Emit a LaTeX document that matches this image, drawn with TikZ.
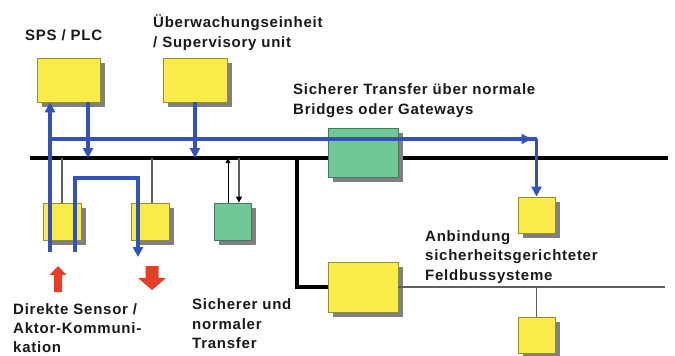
\documentclass[tikz,border=0pt]{standalone}
\usepackage{fontspec}
\setmainfont{Liberation Sans}[LetterSpace=5]
\usetikzlibrary{shadows,arrows.meta}

\definecolor{boxyellow}{RGB}{250,236,72}
\definecolor{boxgreen}{RGB}{112,200,150}
\definecolor{busblue}{RGB}{52,82,188}
\definecolor{arrowred}{RGB}{232,62,40}
\definecolor{shadowgray}{RGB}{128,128,128}
\definecolor{thingray}{RGB}{95,95,95}

\tikzset{
  unit/.style={draw=#1!60!black, fill=#1, line width=0.8pt, inner sep=0pt,
    drop shadow={shadow xshift=5pt,shadow yshift=-5pt,fill=shadowgray,opacity=1}},
  label/.style={align=left, inner sep=0pt, anchor=west, text=black!90,
    font=\fontsize{15}{19.5}\selectfont\bfseries},
  bus/.style={line width=3.6pt, black},
  blueline/.style={line width=3.2pt, busblue, -{Triangle[length=10pt,width=10pt]}},
  thinline/.style={line width=1.5pt, thingray}
}

\begin{document}
\begin{tikzpicture}[x=1pt,y=-1pt]
\useasboundingbox (0,0) rectangle (675,356);

% Geraete
\node[unit=boxyellow, minimum width=63pt, minimum height=44pt] (sps) at (68.5,80) {};
\node[unit=boxyellow, minimum width=64pt, minimum height=44pt] (sup) at (195,80) {};
\node[unit=boxyellow, minimum width=38pt, minimum height=37pt] (sens) at (62,221.5) {};
\node[unit=boxyellow, minimum width=38pt, minimum height=37pt] (akt) at (150,221.5) {};
\node[unit=boxgreen, minimum width=37pt, minimum height=37pt] (tr) at (232.5,221.5) {};
\node[unit=boxyellow, minimum width=37pt, minimum height=36pt] (fb) at (536.5,215) {};
\node[unit=boxyellow, minimum width=70pt, minimum height=50pt] (fbgw) at (363,287) {};
\node[unit=boxyellow, minimum width=37pt, minimum height=36pt] (fbdev) at (536.5,335) {};

% Bus
\coordinate (busL) at (30,158);
\coordinate (busR) at (668,158);
\draw[bus] (busL) -- (busR);
\node[unit=boxgreen, minimum width=70pt, minimum height=49pt] (gw) at (363,152.5) {};

% Abzweig zum Feldbus
\coordinate (abz) at (297,158);
\draw[bus] (abz) |- (fbgw.west);
\draw[thinline] (fbgw.east) -- (665,0 |- fbgw.east);
\draw[thinline] (fbdev.north |- fbgw.east) -- (fbdev.north);

% Stichleitungen
\draw[thinline] (sens.north |- busL) -- (sens.north);
\draw[thinline] ([xshift=2pt]akt.north |- busL) -- ([xshift=2pt]akt.north);
\draw[line width=1pt, thingray, -{Triangle[length=5pt,width=4.5pt]}, black]
  ([xshift=-4.5pt]tr.north) -- ([xshift=-4.5pt]tr.north |- busL);
\draw[line width=1.2pt, thingray, -{Triangle[length=6pt,width=6pt,black]}]
  ([xshift=6.5pt]tr.north |- busL) -- ([xshift=6.5pt]tr.north);

% blaue Pfade
\coordinate (s1) at (50,252);
\coordinate (h0) at (50,139);
\coordinate (k1) at (75,252);
\coordinate (k2) at (138,178);
\coordinate (k3) at (138,257);
\draw[blueline] (s1) -- (s1 |- sps.south);
\draw[blueline, -] (h0) -- (h0 -| fb.north);
\draw[blueline] (h0) -- ([xshift=-5pt]h0 -| fb.north);
\draw[blueline] (h0 -| fb.north) -- (fb.north);
\draw[blueline] ([xshift=19.5pt]sps.south) -- ([xshift=19.5pt]sps.south |- busL);
\draw[blueline] (sup.south) -- (sup.south |- busL);
\draw[blueline] (k1) |- (k2) -- (k3);

% rote Pfeile
\fill[arrowred] (54,292) -- (54,275) -- (49.5,275) -- (58,266) -- (66.5,275) -- (62,275) -- (62,292) -- cycle;
\fill[arrowred] (145.5,266) -- (158.5,266) -- (158.5,278) -- (166,278) -- (152,290) -- (138,278) -- (145.5,278) -- cycle;

% Texte
\node[label] (tsps) at (25,35) {SPS / PLC};
\node[label] (tsup) at (153,32.5) {Überwachungseinheit\\/ Supervisory unit};
\node[label] (tgw) at (293,100.5) {Sicherer Transfer über normale\\Bridges oder Gateways};
\node[label] (tfb) at (425,257) {Anbindung\\sicherheitsgerichteter\\Feldbussysteme};
\node[label, font=\fontsize{15}{19}\selectfont\bfseries] (tsens) at (13,328) {Direkte Sensor /\\Aktor-Kommuni-\\kation};
\node[label] (ttr) at (192,324) {Sicherer und\\normaler\\Transfer};
\end{tikzpicture}
\end{document}
